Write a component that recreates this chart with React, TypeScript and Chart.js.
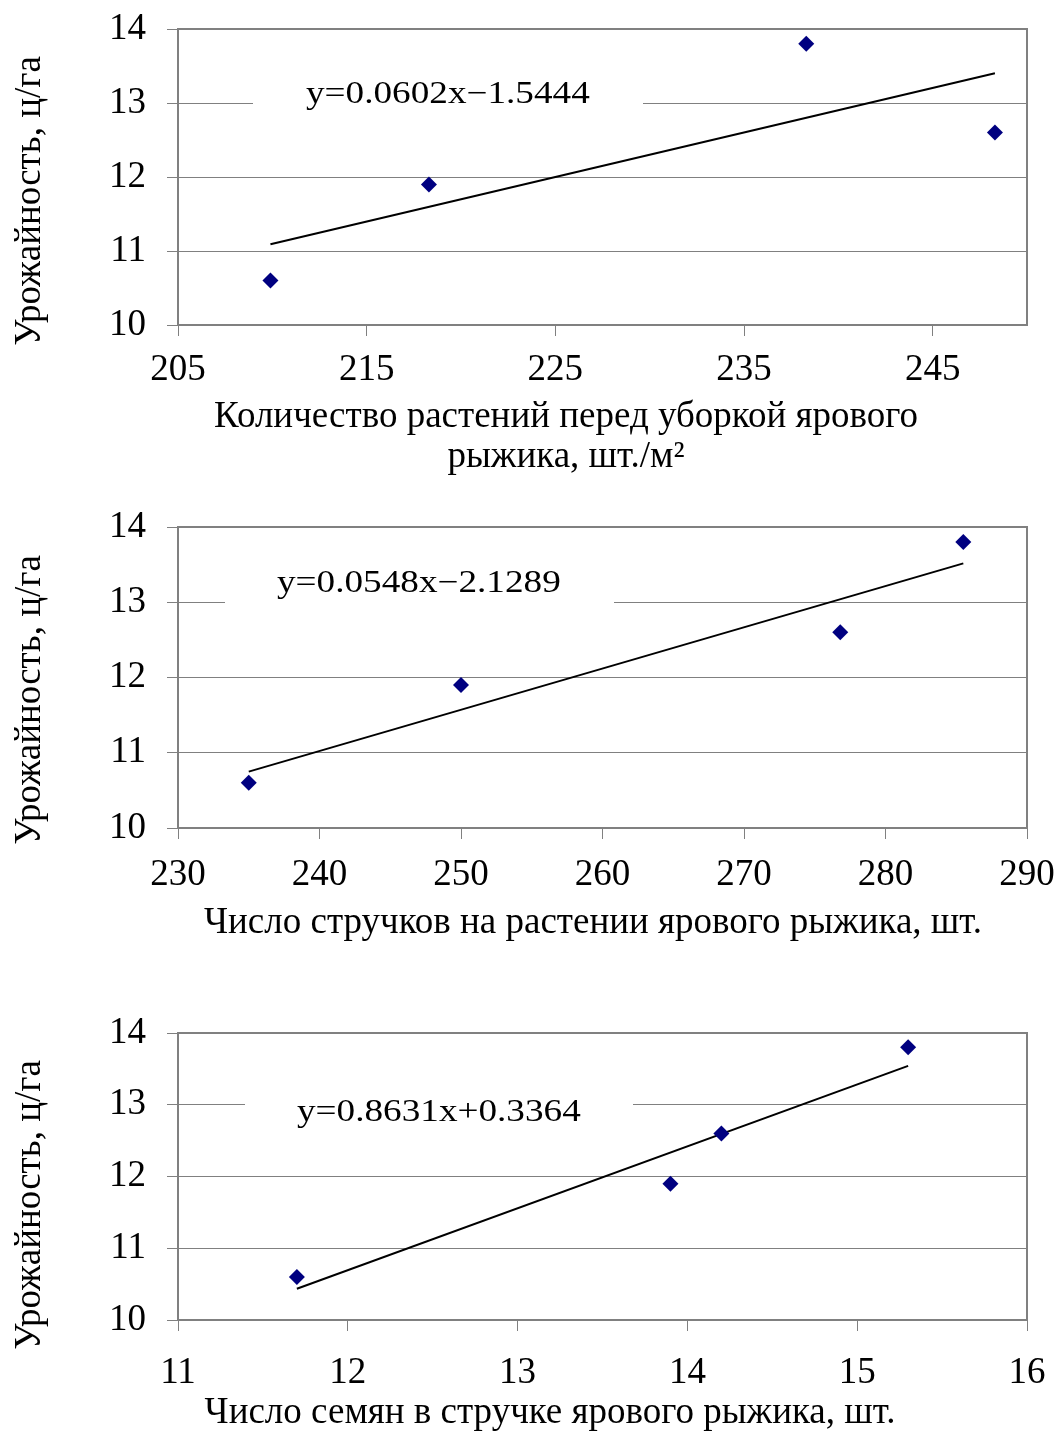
import React, { useEffect, useRef } from "react";
import { Chart, registerables } from "chart.js";

Chart.register(...registerables);

// ---------------- data ----------------
const yieldTicks = [10, 11, 12, 13, 14];
const yieldRange = [10, 14];

const plantsX = [209.9, 218.3, 238.3, 248.3];
const plantsYield = [10.6, 11.9, 13.8, 12.6];
const plantsTicks = [205, 215, 225, 235, 245];
const plantsRange = [205, 250];

const podsX = [235.0, 250.0, 276.8, 285.5];
const podsYield = [10.6, 11.9, 12.6, 13.8];
const podsTicks = [230, 240, 250, 260, 270, 280, 290];
const podsRange = [230, 290];

const seedsX = [11.7, 13.9, 14.2, 15.3];
const seedsYield = [10.6, 11.9, 12.6, 13.8];
const seedsTicks = [11, 12, 13, 14, 15, 16];
const seedsRange = [11, 16];

const trendSlopes = [0.0602, 0.0548, 0.8631];
const trendIntercepts = [-1.5444, -2.1289, 0.3364];
const equationLabels = ["y=0.0602x−1.5444", "y=0.0548x−2.1289", "y=0.8631x+0.3364"];
const xTitles = [
  ["Количество растений перед уборкой ярового", "рыжика, шт./м²"],
  ["Число стручков на растении ярового рыжика, шт."],
  ["Число семян в стручке ярового рыжика, шт."],
];
const yTitle = "Урожайность, ц/га";

const seriesX = [plantsX, podsX, seedsX];
const seriesY = [plantsYield, podsYield, seedsYield];
const xTickSets = [plantsTicks, podsTicks, seedsTicks];
const xRanges = [plantsRange, podsRange, seedsRange];

// ---------------- layout (page pixel coordinates) ----------------
const PAGE_W = 1056;
const PLOT_LEFT = 178;
const PLOT_RIGHT = 1027;
const FONT = "'Liberation Serif', 'Times New Roman', serif";
const FONT_SIZE = 37;
const GRAY = "#808080";

const panels = [
  { top: 0, height: 480, plotTop: 29, plotBottom: 325, tickPad: 12, titleCenterX: 566, titleBaselines: [427, 467], yTitleCenterY: 201, eqLeft: 306, eqBaseline: 103, boxLeft: 253, boxRight: 643 },
  { top: 480, height: 480, plotTop: 527, plotBottom: 828, tickPad: 14, titleCenterX: 593, titleBaselines: [933], yTitleCenterY: 700, eqLeft: 277, eqBaseline: 592, boxLeft: 225, boxRight: 614 },
  { top: 960, height: 472, plotTop: 1033, plotBottom: 1320, tickPad: 20, titleCenterX: 550, titleBaselines: [1423], yTitleCenterY: 1205, eqLeft: 297, eqBaseline: 1121, boxLeft: 245, boxRight: 633 },
];

const zeroPadding = (s: any) => {
  s.paddingTop = 0;
  s.paddingBottom = 0;
  s.paddingLeft = 0;
  s.paddingRight = 0;
};

const overlayPlugin = {
  id: "overlay",
  beforeDatasetsDraw(chart: any, _args: any, opts: any) {
    const ctx = chart.ctx;
    const p = opts.panel;
    const a = chart.chartArea;
    ctx.save();
    // white label box interrupting gridlines
    ctx.fillStyle = "#ffffff";
    ctx.fillRect(p.boxLeft, p.eqBaseline - p.top - 36, p.boxRight - p.boxLeft, 52);
    // plot frame
    ctx.strokeStyle = GRAY;
    ctx.lineWidth = 2;
    ctx.strokeRect(a.left, a.top, a.right - a.left, a.bottom - a.top);
    // equation text (horizontally stretched like the original)
    ctx.fillStyle = "#000";
    ctx.font = `31px ${FONT}`;
    ctx.textAlign = "left";
    ctx.textBaseline = "alphabetic";
    ctx.translate(p.eqLeft, p.eqBaseline - p.top);
    ctx.scale(1.2, 1);
    ctx.fillText(opts.equation, 0, 0);
    ctx.restore();
  },
  afterDraw(chart: any, _args: any, opts: any) {
    const ctx = chart.ctx;
    const p = opts.panel;
    ctx.save();
    ctx.fillStyle = "#000";
    ctx.font = `${FONT_SIZE}px ${FONT}`;
    ctx.textAlign = "center";
    ctx.textBaseline = "alphabetic";
    opts.xTitle.forEach((line: string, i: number) => {
      ctx.fillText(line, p.titleCenterX, p.titleBaselines[i] - p.top);
    });
    ctx.translate(30, p.yTitleCenterY - p.top);
    ctx.rotate(-Math.PI / 2);
    ctx.textBaseline = "middle";
    ctx.fillText(opts.yTitle, 0, 0);
    ctx.restore();
  },
};

function Panel({ index }: { index: number }) {
  const ref = useRef<HTMLCanvasElement | null>(null);
  const p = panels[index];

  useEffect(() => {
    if (!ref.current) return;
    const xs = seriesX[index];
    const ys = seriesY[index];
    const pts = xs.map((x, i) => ({ x, y: ys[i] }));
    const xMin = Math.min(...xs);
    const xMax = Math.max(...xs);
    const slope = trendSlopes[index];
    const icpt = trendIntercepts[index];
    const trend = [
      { x: xMin, y: slope * xMin + icpt },
      { x: xMax, y: slope * xMax + icpt },
    ];
    const xTicks = xTickSets[index];
    const [xLo, xHi] = xRanges[index];

    const chart = new Chart(ref.current, {
      type: "scatter",
      data: {
        datasets: [
          {
            type: "line",
            data: trend,
            borderColor: "#000",
            borderWidth: 2,
            pointRadius: 0,
            fill: false,
            order: 1,
          } as any,
          {
            type: "scatter",
            data: pts,
            pointStyle: "rectRot",
            pointRadius: 8,
            backgroundColor: "#000080",
            borderColor: "#000080",
            borderWidth: 0,
            order: 0,
          } as any,
        ],
      },
      options: {
        animation: false,
        responsive: false,
        maintainAspectRatio: false,
        layout: { padding: { top: p.plotTop - p.top, right: PAGE_W - PLOT_RIGHT, bottom: 0, left: 0 } },
        plugins: {
          legend: { display: false },
          tooltip: { enabled: false },
          overlay: { panel: p, equation: equationLabels[index], xTitle: xTitles[index], yTitle },
        } as any,
        scales: {
          x: {
            type: "linear",
            min: xLo,
            max: xHi,
            afterBuildTicks: (s: any) => {
              s.ticks = xTicks.map((v) => ({ value: v }));
            },
            afterFit: (s: any) => {
              s.height = p.height - (p.plotBottom - p.top);
              zeroPadding(s);
            },
            grid: { drawOnChartArea: false, drawTicks: true, tickLength: 11, tickColor: GRAY, lineWidth: 1, color: GRAY },
            border: { display: true, color: GRAY, width: 2 },
            ticks: { font: { family: FONT, size: FONT_SIZE }, color: "#000", padding: p.tickPad, maxRotation: 0, autoSkip: false },
          },
          y: {
            type: "linear",
            min: yieldRange[0],
            max: yieldRange[1],
            afterBuildTicks: (s: any) => {
              s.ticks = yieldTicks.map((v) => ({ value: v }));
            },
            afterFit: (s: any) => {
              s.width = PLOT_LEFT;
              zeroPadding(s);
            },
            grid: { drawOnChartArea: true, drawTicks: true, tickLength: 11, tickColor: GRAY, lineWidth: 1, color: GRAY },
            border: { display: true, color: GRAY, width: 2 },
            ticks: { font: { family: FONT, size: FONT_SIZE }, color: "#000", padding: 21, autoSkip: false },
          },
        },
      },
      plugins: [overlayPlugin as any],
    });
    return () => chart.destroy();
  }, [index]);

  return (
    <canvas
      ref={ref}
      width={PAGE_W}
      height={p.height}
      style={{ position: "absolute", left: 0, top: p.top, width: PAGE_W, height: p.height, display: "block" }}
    />
  );
}

export default function App() {
  return (
    <div style={{ position: "absolute", left: 0, top: 0, width: PAGE_W, height: 1432, background: "#fff" }}>
      <Panel index={0} />
      <Panel index={1} />
      <Panel index={2} />
    </div>
  );
}
